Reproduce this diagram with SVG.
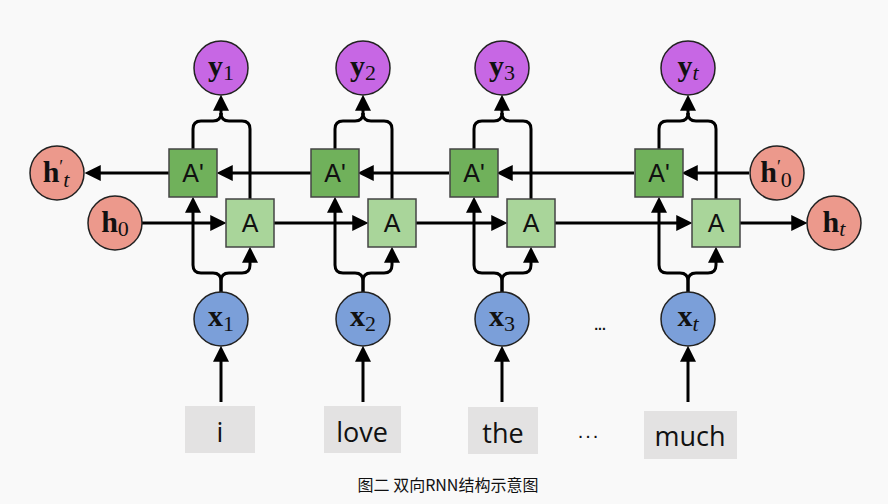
<svg xmlns="http://www.w3.org/2000/svg" width="888" height="504" viewBox="0 0 888 504">
<defs>
<marker id="ah" markerUnits="userSpaceOnUse" markerWidth="16" markerHeight="16" refX="11" refY="7.5" orient="auto" viewBox="0 0 15 15">
<path d="M0,0 L15,7.5 L0,15 z" fill="#000"/>
</marker>
<style>
.ln{fill:none;stroke:#000;stroke-width:3;}
.ar{marker-end:url(#ah);}
.ap{fill:#70b15b;stroke:#444;stroke-width:1.5;}
.a{fill:#a9d59a;stroke:#444;stroke-width:1.5;}
.yn{fill:#c767e4;stroke:#222;stroke-width:1.5;}
.hn{fill:#ec998c;stroke:#222;stroke-width:1.5;}
.xn{fill:#7b9fd9;stroke:#222;stroke-width:1.5;}
.wb{fill:#e3e2e2;}
.bl{font-family:"Liberation Sans",Arial,sans-serif;font-size:25px;fill:#111;text-anchor:middle;}
.m{font-family:"Liberation Serif","Times New Roman",serif;font-size:30px;fill:#111;text-anchor:middle;}
.mb{font-weight:bold;}
.sb{font-size:22px;font-weight:normal;}
.pr{font-size:18px;font-weight:normal;}
.it{font-style:italic;}
.w{font-family:"Open Sans","Liberation Sans",sans-serif;font-size:27px;fill:#111;text-anchor:middle;}
.cap{font-family:"Noto Sans CJK SC","Noto Sans",sans-serif;font-size:16px;fill:#111;text-anchor:middle;}
</style>
</defs>
<rect width="888" height="504" fill="#f9f9f9"/>

<g id="connectors">
<line class="ln ar" x1="749" y1="173" x2="686" y2="173"/>
<line class="ln ar" x1="634" y1="173" x2="501" y2="173"/>
<line class="ln ar" x1="449" y1="173" x2="362" y2="173"/>
<line class="ln ar" x1="311" y1="173" x2="221" y2="173"/>
<line class="ln ar" x1="170" y1="173" x2="89" y2="173"/>
<line class="ln ar" x1="142" y1="223" x2="222" y2="223"/>
<line class="ln ar" x1="274" y1="223" x2="364" y2="223"/>
<line class="ln ar" x1="416" y1="223" x2="503" y2="223"/>
<line class="ln ar" x1="555" y1="223" x2="688" y2="223"/>
<line class="ln ar" x1="740" y1="223" x2="803" y2="223"/>
<path class="ln" d="M193,149 V129 Q193,121 201,121 H213 Q221,121 221,113"/>
<path class="ln" d="M250,199 V129 Q250,121 242,121 H229 Q221,121 221,113"/>
<line class="ln ar" x1="221" y1="115" x2="221" y2="99"/>
<path class="ln ar" d="M221,292 V281 Q221,273 213,273 H201 Q193,273 193,265 V201"/>
<path class="ln ar" d="M221,292 V281 Q221,273 229,273 H242 Q250,273 250,265 V251"/>
<line class="ln ar" x1="221" y1="402" x2="221" y2="350"/>
<path class="ln" d="M335,149 V129 Q335,121 343,121 H355 Q363,121 363,113"/>
<path class="ln" d="M392,199 V129 Q392,121 384,121 H371 Q363,121 363,113"/>
<line class="ln ar" x1="363" y1="115" x2="363" y2="99"/>
<path class="ln ar" d="M363,292 V281 Q363,273 355,273 H343 Q335,273 335,265 V201"/>
<path class="ln ar" d="M363,292 V281 Q363,273 371,273 H384 Q392,273 392,265 V251"/>
<line class="ln ar" x1="363" y1="402" x2="363" y2="350"/>
<path class="ln" d="M474,149 V129 Q474,121 482,121 H494 Q502,121 502,113"/>
<path class="ln" d="M531,199 V129 Q531,121 523,121 H510 Q502,121 502,113"/>
<line class="ln ar" x1="502" y1="115" x2="502" y2="99"/>
<path class="ln ar" d="M502,292 V281 Q502,273 494,273 H482 Q474,273 474,265 V201"/>
<path class="ln ar" d="M502,292 V281 Q502,273 510,273 H523 Q531,273 531,265 V251"/>
<line class="ln ar" x1="502" y1="402" x2="502" y2="350"/>
<path class="ln" d="M659,149 V129 Q659,121 667,121 H680 Q688,121 688,113"/>
<path class="ln" d="M716,199 V129 Q716,121 708,121 H696 Q688,121 688,113"/>
<line class="ln ar" x1="688" y1="115" x2="688" y2="99"/>
<path class="ln ar" d="M688,292 V281 Q688,273 680,273 H667 Q659,273 659,265 V201"/>
<path class="ln ar" d="M688,292 V281 Q688,273 696,273 H708 Q716,273 716,265 V251"/>
<line class="ln ar" x1="688" y1="402" x2="688" y2="350"/>
</g>

<g id="A1p"><rect class="ap" x="169" y="149" width="48" height="48"/><text class="bl" x="193" y="182">A'</text></g>
<g id="A2p"><rect class="ap" x="311" y="149" width="48" height="48"/><text class="bl" x="335" y="182">A'</text></g>
<g id="A3p"><rect class="ap" x="450" y="149" width="48" height="48"/><text class="bl" x="474" y="182">A'</text></g>
<g id="A4p"><rect class="ap" x="635" y="149" width="48" height="48"/><text class="bl" x="659" y="182">A'</text></g>

<g id="A1"><rect class="a" x="226" y="199" width="48" height="48"/><text class="bl" x="250" y="232">A</text></g>
<g id="A2"><rect class="a" x="368" y="199" width="48" height="48"/><text class="bl" x="392" y="232">A</text></g>
<g id="A3"><rect class="a" x="507" y="199" width="48" height="48"/><text class="bl" x="531" y="232">A</text></g>
<g id="A4"><rect class="a" x="692" y="199" width="48" height="48"/><text class="bl" x="716" y="232">A</text></g>

<g id="y1"><circle class="yn" cx="221" cy="68" r="27"/><text class="m" x="221" y="76"><tspan class="mb">y</tspan><tspan class="sb" dy="4">1</tspan></text></g>
<g id="y2"><circle class="yn" cx="363" cy="68" r="27"/><text class="m" x="363" y="76"><tspan class="mb">y</tspan><tspan class="sb" dy="4">2</tspan></text></g>
<g id="y3"><circle class="yn" cx="502" cy="68" r="27"/><text class="m" x="502" y="76"><tspan class="mb">y</tspan><tspan class="sb" dy="4">3</tspan></text></g>
<g id="yt"><circle class="yn" cx="688" cy="68" r="27"/><text class="m" x="688" y="76"><tspan class="mb">y</tspan><tspan class="sb it" dy="4">t</tspan></text></g>

<g id="hpt"><circle class="hn" cx="57" cy="173" r="27"/><text class="m" x="56" y="182"><tspan class="mb">h</tspan><tspan class="pr" dy="-9">′</tspan><tspan class="sb it" dy="14">t</tspan></text></g>
<g id="h0"><circle class="hn" cx="115" cy="223" r="27"/><text class="m" x="115" y="232"><tspan class="mb">h</tspan><tspan class="sb" dy="4">0</tspan></text></g>
<g id="hp0"><circle class="hn" cx="777" cy="173" r="27"/><text class="m" x="776" y="182"><tspan class="mb">h</tspan><tspan class="pr" dy="-9">′</tspan><tspan class="sb" dy="14">0</tspan></text></g>
<g id="ht"><circle class="hn" cx="834" cy="223" r="27"/><text class="m" x="834" y="232"><tspan class="mb">h</tspan><tspan class="sb it" dy="4">t</tspan></text></g>

<g id="x1"><circle class="xn" cx="221" cy="319" r="27"/><text class="m" x="221" y="326"><tspan class="mb">x</tspan><tspan class="sb" dy="5">1</tspan></text></g>
<g id="x2"><circle class="xn" cx="363" cy="319" r="27"/><text class="m" x="363" y="326"><tspan class="mb">x</tspan><tspan class="sb" dy="5">2</tspan></text></g>
<g id="x3"><circle class="xn" cx="502" cy="319" r="27"/><text class="m" x="502" y="326"><tspan class="mb">x</tspan><tspan class="sb" dy="5">3</tspan></text></g>
<g id="xt"><circle class="xn" cx="688" cy="319" r="27"/><text class="m" x="688" y="326"><tspan class="mb">x</tspan><tspan class="sb it" dy="5">t</tspan></text></g>

<g id="dots1"><text x="600" y="330" font-family="Liberation Sans,sans-serif" font-size="14" font-weight="bold" text-anchor="middle" fill="#111">...</text></g>

<g id="w1"><rect class="wb" x="185" y="406" width="70" height="47"/><text class="w" x="220" y="442">i</text></g>
<g id="w2"><rect class="wb" x="324" y="406" width="77" height="47"/><text class="w" x="362" y="442">love</text></g>
<g id="w3"><rect class="wb" x="468" y="407" width="70" height="47"/><text class="w" x="503" y="443">the</text></g>
<g id="dots2"><text x="589" y="438" font-family="Liberation Sans,sans-serif" font-size="20" letter-spacing="2" text-anchor="middle" fill="#111">...</text></g>
<g id="w4"><rect class="wb" x="644" y="411" width="93" height="48"/><text class="w" x="690" y="446">much</text></g>

<text class="cap" x="448" y="491">图二 双向RNN结构示意图</text>
</svg>
